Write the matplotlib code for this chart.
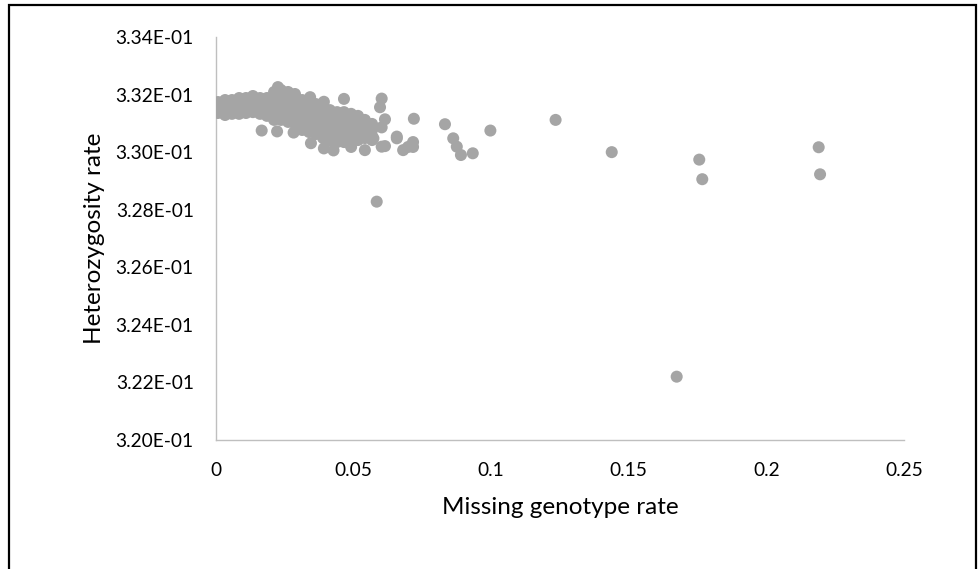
import matplotlib
matplotlib.use("Agg")
import matplotlib.pyplot as plt
from matplotlib.patches import Rectangle
import numpy as np

# Main sample cluster (missing genotype rate, heterozygosity rate)
cluster_missing = [
    0.0007, 0.0007, 0.0007, 0.0007,
    0.0033, 0.0033, 0.0033, 0.0033,
    0.0058, 0.0058, 0.0058, 0.0058,
    0.0084, 0.0084, 0.0084, 0.0084,
    0.0109, 0.0109, 0.0109, 0.0109,
    0.0134, 0.0134, 0.0134, 0.0134,
    0.0160, 0.0160, 0.0160, 0.0160,
    0.0185, 0.0185, 0.0185, 0.0185,
    0.0211, 0.0211, 0.0211, 0.0211, 0.0211, 0.0211,
    0.0236, 0.0236, 0.0236, 0.0236, 0.0236, 0.0236,
    0.0262, 0.0262, 0.0262, 0.0262, 0.0262, 0.0262,
    0.0287, 0.0287, 0.0287, 0.0287, 0.0287, 0.0287,
    0.0313, 0.0313, 0.0313, 0.0313, 0.0313, 0.0313,
    0.0338, 0.0338, 0.0338, 0.0338, 0.0338, 0.0338,
    0.0363, 0.0363, 0.0363, 0.0363, 0.0363, 0.0363,
    0.0389, 0.0389, 0.0389, 0.0389, 0.0389, 0.0389,
    0.0414, 0.0414, 0.0414, 0.0414, 0.0414, 0.0414,
    0.0440, 0.0440, 0.0440, 0.0440, 0.0440, 0.0440,
    0.0465, 0.0465, 0.0465, 0.0465, 0.0465, 0.0465,
    0.0491, 0.0491, 0.0491, 0.0491, 0.0491,
    0.0516, 0.0516, 0.0516, 0.0516, 0.0516,
    0.0541, 0.0541, 0.0541, 0.0541,
    0.0567, 0.0567, 0.0567, 0.0567,
]
cluster_het = [
    0.33174, 0.33160, 0.33146, 0.33136,
    0.33181, 0.33160, 0.33139, 0.33129,
    0.33181, 0.33160, 0.33139, 0.33133,
    0.33188, 0.33167, 0.33146, 0.33133,
    0.33188, 0.33167, 0.33146, 0.33136,
    0.33195, 0.33174, 0.33153, 0.33139,
    0.33188, 0.33167, 0.33146, 0.33133,
    0.33188, 0.33167, 0.33146, 0.33126,
    0.33209, 0.33188, 0.33167, 0.33146, 0.33126, 0.33112,
    0.33216, 0.33195, 0.33174, 0.33153, 0.33133, 0.33112,
    0.33209, 0.33188, 0.33167, 0.33146, 0.33126, 0.33105,
    0.33202, 0.33181, 0.33160, 0.33139, 0.33119, 0.33098,
    0.33181, 0.33160, 0.33139, 0.33119, 0.33098, 0.33077,
    0.33174, 0.33153, 0.33133, 0.33112, 0.33091, 0.33070,
    0.33167, 0.33146, 0.33126, 0.33105, 0.33084, 0.33063,
    0.33153, 0.33133, 0.33112, 0.33091, 0.33070, 0.33049,
    0.33146, 0.33126, 0.33105, 0.33084, 0.33063, 0.33042,
    0.33139, 0.33119, 0.33098, 0.33077, 0.33056, 0.33035,
    0.33139, 0.33119, 0.33098, 0.33077, 0.33056, 0.33035,
    0.33133, 0.33112, 0.33091, 0.33070, 0.33049,
    0.33126, 0.33105, 0.33084, 0.33063, 0.33042,
    0.33112, 0.33091, 0.33070, 0.33049,
    0.33098, 0.33077, 0.33056, 0.33042,
]

# Individual samples around and beyond the cluster
spread_missing = [
    0.0166, 0.0222, 0.0225, 0.0282, 0.0342, 0.0345, 0.0392, 0.0392,
    0.0427, 0.0465, 0.0491, 0.0541, 0.0572, 0.0602, 0.0596, 0.0614,
    0.0602, 0.0614, 0.0602, 0.0657, 0.0657, 0.0680, 0.0698, 0.0716,
    0.0716, 0.0719, 0.0832, 0.0862, 0.0875, 0.0890, 0.0933, 0.0997,
    0.1234, 0.1438, 0.1674, 0.1756, 0.1767, 0.2190, 0.2195, 0.0584,
]
spread_het = [
    0.33075, 0.33072, 0.33226, 0.33068, 0.33191, 0.33031, 0.33175, 0.33013,
    0.33006, 0.33185, 0.33018, 0.33007, 0.33048, 0.33186, 0.33156, 0.33114,
    0.33086, 0.33021, 0.33019, 0.33048, 0.33054, 0.33007, 0.33018, 0.33035,
    0.33018, 0.33116, 0.33097, 0.33048, 0.33019, 0.32990, 0.32996, 0.33075,
    0.33112, 0.33000, 0.32220, 0.32974, 0.32906, 0.33017, 0.32923, 0.32828,
]

x_ticks = [0, 0.05, 0.1, 0.15, 0.2, 0.25]
x_tick_labels = ["0", "0.05", "0.1", "0.15", "0.2", "0.25"]
y_ticks = [0.320, 0.322, 0.324, 0.326, 0.328, 0.330, 0.332, 0.334]
y_tick_labels = ["3.20E-01", "3.22E-01", "3.24E-01", "3.26E-01",
                 "3.28E-01", "3.30E-01", "3.32E-01", "3.34E-01"]

plt.rcParams["font.family"] = ["Lato", "DejaVu Sans"]

W, H = 979, 569
fig = plt.figure(figsize=(W / 100, H / 100), dpi=100)
ax = fig.add_axes([216 / W, (H - 440) / H, 688 / W, 403 / H])

missing = np.concatenate([cluster_missing, spread_missing])
het = np.concatenate([cluster_het, spread_het])
ax.scatter(missing, het, s=75, color="#A5A5A5", edgecolors="none", zorder=3)

ax.set_xlim(0, 0.25)
ax.set_ylim(0.320, 0.334)
ax.set_xticks(x_ticks)
ax.set_xticklabels(x_tick_labels)
ax.set_yticks(y_ticks)
ax.set_yticklabels(y_tick_labels)
ax.tick_params(axis="both", length=0, labelsize=13.8, colors="#000000")
ax.tick_params(axis="x", pad=16)
ax.tick_params(axis="y", pad=16)

for side in ("top", "right"):
    ax.spines[side].set_visible(False)
for side in ("left", "bottom"):
    ax.spines[side].set_color("#BFBFBF")
    ax.spines[side].set_linewidth(1.0)

ax.set_xlabel("Missing genotype rate", fontsize=17.5, va="center")
ax.xaxis.set_label_coords(0.5, -(508 - 440) / 403)
ax.set_ylabel("Heterozygosity rate", fontsize=17.5, va="center")
ax.yaxis.set_label_coords(-(216 - 95) / 688, 0.5)

# Chart-area frame
fig.add_artist(Rectangle((9 / W, -0.05), (976 - 9) / W, 1.05 - 5 / H,
                         transform=fig.transFigure, fill=False,
                         edgecolor="#000000", linewidth=1.6))

fig.savefig("out.png", dpi=100)
